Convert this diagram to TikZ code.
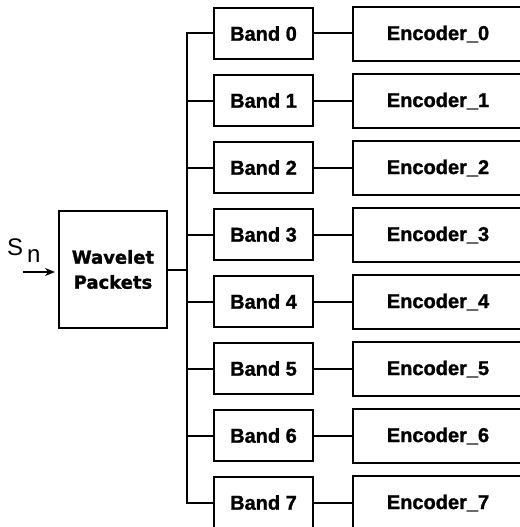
\documentclass[tikz,border=0pt]{standalone}
\usepackage{fontspec}
\setmainfont{Liberation Sans}
\newfontfamily\heavy{Liberation Sans Bold}[FakeBold=1.3]
\newfontfamily\dejavu{DejaVu Sans Bold}[FakeBold=1.3]
\usetikzlibrary{arrows.meta}
\begin{document}
\begin{tikzpicture}[x=1pt,y=-1pt,line width=2pt,
  bandbox/.style={draw,minimum width=99pt,minimum height=51pt,inner sep=0pt,
    font=\heavy\fontsize{20}{24}\selectfont},
  encbox/.style={draw,minimum width=170pt,minimum height=54pt,inner sep=0pt,
    font=\heavy\fontsize{20}{24}\selectfont},
  wpbox/.style={draw,minimum width=108pt,minimum height=117pt,inner sep=0pt,align=center,
    font=\dejavu\fontsize{18}{25}\selectfont},
  link/.style={line width=2pt}]
\useasboundingbox (0,0) rectangle (519,527);
\node[wpbox] (wp) at (113,269.5) {Wavelet\\Packets};
\foreach \i in {0,...,7}{
  \node[bandbox] (band\i) at (263.5,{33.5+67*\i}) {Band \i};
  \node[encbox] (enc\i) at (438,{34+67*\i}) {Encoder\_\i};
  \draw[link] (band\i.east) -- (band\i.east -| enc\i.west);
  \draw[link] (band\i.west) -- ++(-27,0);
}
\coordinate (bus) at (187,0);
\draw[link] (band0.west -| bus) -- (band7.west -| bus);
\draw[link] (wp.east) -- (wp.east -| bus);
\coordinate (in) at (23,272);
\draw[link,-{Stealth[length=10pt,width=8pt]}] (in) -- ([xshift=-3pt]wp.west |- in);
\node[anchor=base west,inner sep=0pt,font=\fontsize{24}{28}\selectfont] (sn) at (6,255) {S\hspace{4pt}\raisebox{-7pt}{n}};
\end{tikzpicture}
\end{document}
